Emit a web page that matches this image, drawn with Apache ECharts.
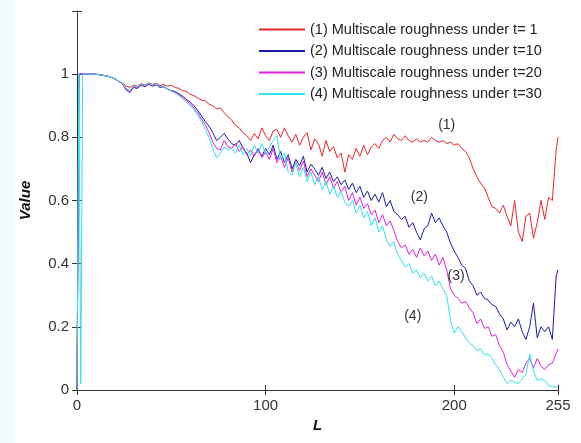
<!DOCTYPE html>
<html>
<head>
<meta charset="utf-8">
<script src="https://cdn.jsdelivr.net/npm/echarts@6/dist/echarts.min.js"></script>
<style>
  html, body { margin: 0; padding: 0; background: #fff; }
  #chart { width: 581px; height: 443px; }
</style>
</head>
<body>
<div id="chart"></div>
<script>
// L positions (every 2 steps, plus the start spike and the end)
const L = [0, 1, 2, 3, 4, 6, 8, 10, 12, 14, 16, 18, 20, 22, 24, 26, 28, 30, 32, 34, 36, 38, 40, 42, 44, 46, 48,
  50, 52, 54, 56, 58, 60, 62, 64, 66, 68, 70, 72, 74, 76, 78, 80, 82, 84, 86, 88, 90, 92, 94, 96, 98,
  100, 102, 104, 106, 108, 110, 112, 114, 116, 118, 120, 122, 124, 126, 128, 130, 132, 134, 136, 138, 140, 142, 144, 146, 148,
  150, 152, 154, 156, 158, 160, 162, 164, 166, 168, 170, 172, 174, 176, 178, 180, 182, 184, 186, 188, 190, 192, 194, 196, 198,
  200, 202, 204, 206, 208, 210, 212, 214, 216, 218, 220, 222, 224, 226, 228, 230, 232, 234, 236, 238, 240, 242, 244, 246, 248,
  250, 252, 254, 255]

const t1 = [0, 1, 1, 1, 1, 1, 1, 1, 0.998, 0.996, 0.994, 0.99, 0.985, 0.978, 0.972, 0.962, 0.958, 0.965, 0.962, 0.97, 0.966, 0.972, 0.968, 0.971, 0.964, 0.967, 0.962,
  0.965, 0.958, 0.955, 0.948, 0.945, 0.936, 0.932, 0.925, 0.918, 0.915, 0.905, 0.9, 0.89, 0.893, 0.878, 0.865, 0.855, 0.838, 0.83, 0.815, 0.805, 0.79, 0.812, 0.795, 0.83,
  0.805, 0.79, 0.82, 0.825, 0.8, 0.83, 0.805, 0.785, 0.81, 0.775, 0.8, 0.815, 0.76, 0.795, 0.78, 0.74, 0.79, 0.755, 0.77, 0.735, 0.75, 0.69, 0.745, 0.73, 0.765,
  0.74, 0.775, 0.745, 0.77, 0.78, 0.765, 0.79, 0.8, 0.785, 0.81, 0.795, 0.79, 0.805, 0.79, 0.785, 0.795, 0.785, 0.79, 0.785, 0.8, 0.79, 0.785, 0.79, 0.78, 0.785,
  0.775, 0.78, 0.765, 0.755, 0.735, 0.7, 0.675, 0.655, 0.64, 0.61, 0.58, 0.575, 0.56, 0.585, 0.55, 0.52, 0.6, 0.5, 0.47, 0.55, 0.56, 0.48, 0.53, 0.6, 0.54,
  0.61, 0.6, 0.76, 0.8]

const t10 = [0, 1, 1, 1, 1, 1, 1, 1, 0.998, 0.996, 0.994, 0.99, 0.985, 0.978, 0.97, 0.95, 0.942, 0.958, 0.955, 0.965, 0.96, 0.968, 0.962, 0.966, 0.958, 0.96, 0.952,
  0.948, 0.945, 0.938, 0.93, 0.92, 0.912, 0.9, 0.885, 0.868, 0.85, 0.835, 0.815, 0.79, 0.8, 0.812, 0.795, 0.78, 0.775, 0.79, 0.765, 0.75, 0.72, 0.745, 0.76, 0.74,
  0.765, 0.745, 0.775, 0.73, 0.755, 0.72, 0.745, 0.7, 0.73, 0.71, 0.74, 0.69, 0.715, 0.7, 0.68, 0.705, 0.67, 0.69, 0.66, 0.675, 0.65, 0.665, 0.635, 0.655, 0.625,
  0.645, 0.61, 0.63, 0.6, 0.62, 0.595, 0.625, 0.58, 0.6, 0.565, 0.555, 0.54, 0.55, 0.515, 0.53, 0.5, 0.475, 0.51, 0.52, 0.56, 0.53, 0.545, 0.52, 0.5, 0.465,
  0.44, 0.42, 0.395, 0.385, 0.345, 0.33, 0.3, 0.31, 0.29, 0.285, 0.27, 0.265, 0.24, 0.225, 0.19, 0.215, 0.2, 0.225, 0.185, 0.16, 0.2, 0.275, 0.165, 0.2, 0.185,
  0.2, 0.16, 0.36, 0.38]

const t20 = [0, 1, 1, 1, 1, 1, 1, 1, 0.998, 0.996, 0.994, 0.99, 0.985, 0.978, 0.97, 0.952, 0.944, 0.96, 0.957, 0.967, 0.962, 0.97, 0.964, 0.968, 0.96, 0.962, 0.953,
  0.947, 0.943, 0.935, 0.927, 0.916, 0.906, 0.893, 0.878, 0.858, 0.84, 0.815, 0.785, 0.765, 0.76, 0.79, 0.77, 0.765, 0.78, 0.755, 0.77, 0.745, 0.76, 0.74, 0.765, 0.735,
  0.755, 0.73, 0.765, 0.72, 0.74, 0.705, 0.735, 0.69, 0.72, 0.695, 0.725, 0.675, 0.7, 0.68, 0.66, 0.69, 0.65, 0.675, 0.64, 0.66, 0.625, 0.645, 0.6, 0.625, 0.585,
  0.61, 0.575, 0.59, 0.555, 0.57, 0.53, 0.555, 0.52, 0.535, 0.505, 0.47, 0.45, 0.46, 0.43, 0.445, 0.42, 0.45, 0.425, 0.44, 0.41, 0.43, 0.395, 0.42, 0.38, 0.32,
  0.3, 0.29, 0.275, 0.28, 0.26, 0.245, 0.21, 0.225, 0.195, 0.2, 0.17, 0.175, 0.14, 0.12, 0.08, 0.06, 0.04, 0.065, 0.055, 0.085, 0.1, 0.07, 0.1, 0.075, 0.065,
  0.08, 0.085, 0.115, 0.13]

const t30 = [0, 1, 0.02, 1, 1, 1, 1, 1, 0.998, 0.996, 0.994, 0.99, 0.985, 0.978, 0.972, 0.955, 0.95, 0.962, 0.96, 0.968, 0.965, 0.972, 0.966, 0.97, 0.96, 0.962, 0.952,
  0.946, 0.94, 0.932, 0.922, 0.91, 0.9, 0.888, 0.87, 0.85, 0.825, 0.8, 0.765, 0.735, 0.75, 0.77, 0.76, 0.765, 0.75, 0.775, 0.745, 0.765, 0.74, 0.775, 0.75, 0.78,
  0.745, 0.77, 0.79, 0.805, 0.73, 0.75, 0.69, 0.68, 0.72, 0.675, 0.705, 0.66, 0.69, 0.65, 0.675, 0.635, 0.66, 0.62, 0.645, 0.61, 0.63, 0.595, 0.58, 0.6, 0.56,
  0.585, 0.545, 0.565, 0.52, 0.545, 0.5, 0.52, 0.475, 0.455, 0.47, 0.43, 0.41, 0.39, 0.4, 0.37, 0.38, 0.355, 0.37, 0.345, 0.36, 0.33, 0.345, 0.32, 0.3, 0.22,
  0.18, 0.2, 0.185, 0.165, 0.15, 0.14, 0.125, 0.13, 0.11, 0.115, 0.1, 0.08, 0.065, 0.04, 0.02, 0.03, 0.025, 0.02, 0.035, 0.05, 0.115, 0.06, 0.03, 0.035, 0.03,
  0.015, 0.01, 0.01, 0.01]

const names = [
  '(1) Multiscale roughness under t= 1',
  '(2) Multiscale roughness under t=10',
  '(3) Multiscale roughness under t=20',
  '(4) Multiscale roughness under t=30'
]
const colors = ['#e8262c', '#1c1ca8', '#e020dc', '#2ee4e8']
const values = [t1, t10, t20, t30]

// curve labels placed in data space
const noteText = ['(1)', '(2)', '(3)', '(4)']
const noteL = [196, 181.5, 201, 178]
const noteV = [0.84, 0.61, 0.36, 0.235]

const font = '"Liberation Sans", Arial, sans-serif'

const chart = echarts.init(document.getElementById('chart'))

const series = values.map((vals, i) => ({
  name: names[i],
  type: 'line',
  data: L.map((x, k) => [x, vals[k]]),
  symbol: 'none',
  lineStyle: { color: colors[i], width: 1 },
  itemStyle: { color: colors[i] },
  markPoint: {
    symbol: 'rect',
    symbolSize: 1,
    itemStyle: { color: 'rgba(0,0,0,0)' },
    label: { show: true, position: 'inside', color: '#333', fontSize: 14, fontFamily: font, formatter: noteText[i] },
    data: [{ coord: [noteL[i], noteV[i]] }]
  }
}))

chart.setOption({
  animation: false,
  backgroundColor: '#fff',
  graphic: [{ type: 'rect', shape: { x: 0, y: 0, width: 14, height: 443 }, style: { fill: '#effbfd' }, z: -10 }],
  grid: { left: 77, right: 23, top: 11, bottom: 53 },
  legend: {
    orient: 'vertical', left: 258, top: 22, padding: 0,
    itemWidth: 46, itemHeight: 14, itemGap: 6.5,
    itemStyle: { opacity: 0 },
    textStyle: { color: '#222', fontSize: 14.5, fontFamily: font },
    data: names
  },
  xAxis: [{
    type: 'value', min: 0, max: 255, interval: 100,
    name: 'L', nameLocation: 'middle', nameGap: 28,
    nameTextStyle: { fontSize: 15, fontWeight: 'bold', fontStyle: 'italic', color: '#111', fontFamily: font },
    axisLine: { lineStyle: { color: '#333' } },
    axisTick: { inside: true, length: 5, lineStyle: { color: '#333' } },
    axisLabel: { color: '#333', fontSize: 15, margin: 8, fontFamily: font },
    splitLine: { show: false }
  }, {
    type: 'value', min: 0, max: 255, interval: 100, position: 'top',
    axisLine: { show: true, lineStyle: { color: '#333' } },
    axisTick: { inside: true, length: 5, lineStyle: { color: '#333' } },
    axisLabel: { show: false },
    splitLine: { show: false }
  }],
  yAxis: [{
    type: 'value', min: 0, max: 1.2, interval: 0.2,
    name: 'Value', nameLocation: 'middle', nameGap: 44,
    nameTextStyle: { fontSize: 15, fontWeight: 'bold', fontStyle: 'italic', color: '#111', fontFamily: font },
    axisLine: { show: true, lineStyle: { color: '#111' } },
    axisTick: { inside: true, length: 5, lineStyle: { color: '#333' } },
    axisLabel: {
      color: '#333', fontSize: 15, margin: 8, fontFamily: font,
      formatter: v => (v > 1.01 ? '' : String(Math.round(v * 10) / 10))
    },
    splitLine: { show: false }
  }, {
    type: 'value', min: 0, max: 1.2, interval: 0.2, position: 'right',
    axisLine: { show: true, lineStyle: { color: '#333' } },
    axisTick: { inside: true, length: 5, lineStyle: { color: '#333' } },
    axisLabel: { show: false },
    splitLine: { show: false }
  }],
  series: series
})
</script>
</body>
</html>
